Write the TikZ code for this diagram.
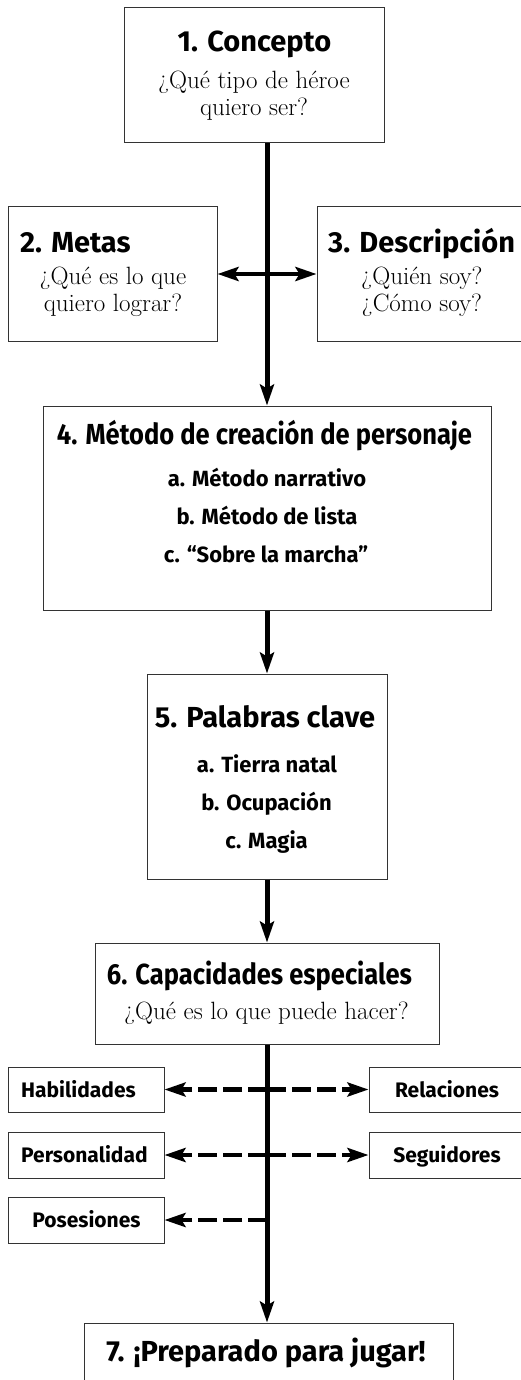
\documentclass[tikz,border=0pt]{standalone}
\usepackage{fontspec}
\newfontfamily\hd{Fira Sans}
\usetikzlibrary{arrows.meta}
\tikzset{
  >={Stealth[length=21pt,width=14pt,inset=4pt]},
  box/.style={draw=black!80, line width=1pt, fill=white, inner sep=0pt},
  hdtext/.style={font=\hd\bfseries\fontsize{29}{32}\selectfont, inner sep=0pt, text height=21pt, text depth=7pt},
  itemtext/.style={font=\hd\bfseries\fontsize{22}{26}\selectfont, inner sep=0pt, text height=16pt, text depth=5pt},
  smalltext/.style={font=\hd\bfseries\fontsize{21}{24}\selectfont, inner sep=0pt, text height=15pt, text depth=5pt},
  sertext/.style={font=\fontsize{25}{27}\selectfont, inner sep=0pt, align=center},
  flow/.style={line width=5pt, ->},
  dflow/.style={line width=4.5pt, dash pattern=on 19pt off 6pt, ->},
}
\newcommand{\cond}[1]{\scalebox{0.88}[1]{#1}}
\begin{document}
\begin{tikzpicture}[x=1pt,y=-1pt]
\useasboundingbox (0,0) rectangle (520,1380);
% boxes
\node[box, minimum width=260pt, minimum height=135pt] (b1) at (254,75.5) {};
\node[box, minimum width=209pt, minimum height=134pt] (b2) at (112.5,274) {};
\node[box, minimum width=223pt, minimum height=134pt] (b3) at (428.5,274) {};
\node[box, minimum width=448pt, minimum height=204pt] (b4) at (267,508) {};
\node[box, minimum width=240pt, minimum height=205pt] (b5) at (267,776.5) {};
\node[box, minimum width=344pt, minimum height=101pt] (b6) at (267,993.5) {};
\node[box, minimum width=156pt, minimum height=45pt] (hab) at (86,1089.5) {};
\node[box, minimum width=171pt, minimum height=45pt] (rel) at (454.5,1089.5) {};
\node[box, minimum width=156pt, minimum height=46pt] (per) at (86,1155) {};
\node[box, minimum width=171pt, minimum height=46pt] (seg) at (454.5,1155) {};
\node[box, minimum width=156pt, minimum height=46pt] (pos) at (86,1220) {};
\node[box, minimum width=369pt, minimum height=87pt] (b7) at (268.5,1366.5) {};
% texts
\node[hdtext] (t1) at (254.5,45) {1. Concepto};
\node[sertext] (s1) at (254,96) {¿Qué tipo de héroe\\quiero ser?};
\node[hdtext, anchor=west] (t2) at (20,245) {2. Metas};
\node[sertext] (s2) at (113,292) {¿Qué es lo que\\quiero lograr?};
\node[hdtext, anchor=west] (t3) at (328,245) {3. Descripción};
\node[sertext] (s3) at (422,292) {¿Quién soy?\\¿Cómo soy?};
\node[hdtext] (t4) at (264.5,437) {\cond{4. Método de creación de personaje}};
\node[itemtext] (i4a) at (267,481) {a. Método narrativo};
\node[itemtext] (i4b) at (267,519) {b. Método de lista};
\node[itemtext] (i4c) at (266,557) {c. “Sobre la marcha”};
\node[hdtext] (t5) at (265,720) {5. Palabras clave};
\node[itemtext] (i5a) at (267,767) {a. Tierra natal};
\node[itemtext] (i5b) at (266.5,805) {b. Ocupación};
\node[itemtext] (i5c) at (266.5,843) {c. Magia};
\node[hdtext] (t6) at (259.5,977) {\cond{6. Capacidades especiales}};
\node[sertext] (s6) at (266.5,1013) {¿Qué es lo que puede hacer?};
\node[smalltext, anchor=west] at (21,1092) {Habilidades};
\node[smalltext] at (447,1092) {Relaciones};
\node[smalltext, anchor=west] at (21,1157.5) {Personalidad};
\node[smalltext] at (447,1157.5) {Seguidores};
\node[smalltext] at (86.5,1222.5) {Posesiones};
\node[hdtext] (t7) at (266,1354) {7. ¡Preparado para jugar!};
% connectors
\draw[flow] (b1.south -| b4.north) -- (b4.north);
\draw[line width=4.5pt, <->] (b2.east) -- (b3.west);
\draw[flow] (b4.south) -- (b5.north);
\draw[flow] (b5.south) -- (b6.north);
\draw[flow] (b6.south) -- (b7.north -| b6.south);
\coordinate (j1) at (267,1089.5);
\coordinate (j2) at (267,1155);
\coordinate (j3) at (267,1220);
\draw[dflow] (j1) -- (hab.east);
\draw[dflow] (j1) -- (rel.west);
\draw[dflow] (j2) -- (per.east);
\draw[dflow] (j2) -- (seg.west);
\draw[dflow] (j3) -- (pos.east);
\end{tikzpicture}
\end{document}
